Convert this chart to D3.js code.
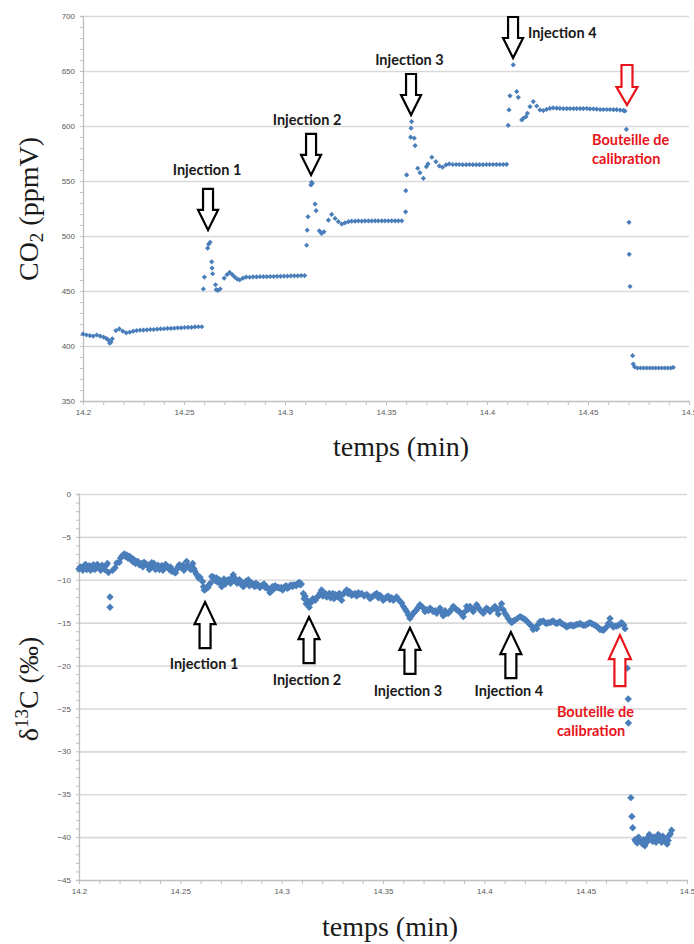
<!DOCTYPE html>
<html><head><meta charset="utf-8">
<script src="https://cdn.jsdelivr.net/npm/d3@7"></script>
<style>body{margin:0;background:#fff;overflow:hidden}</style>
</head><body>
<svg id="c" width="694" height="944" xmlns="http://www.w3.org/2000/svg"></svg>
<script>
// ---------- DATA ----------
const co2Time = [
14.2000,14.2017,14.2034,14.2051,14.2068,14.2085,14.2102,14.2115,14.2125,14.2132,14.2138,14.2145,14.2163,14.2180,14.2197,14.2214,14.2231,14.2248,14.2265,14.2282,14.2299,14.2316,14.2333,14.2350,14.2367,14.2384,14.2401,14.2418,14.2435,14.2452,14.2469,14.2486,14.2503,14.2520,14.2537,14.2554,14.2571,14.2588,
14.2596,14.2601,14.2617,14.2622,14.2629,14.2637,14.2639,14.2642,14.2656,14.2659,14.2668,14.2679,14.2699,14.2713,14.2726,14.2739,14.2751,14.2764,14.2776,14.2792,14.2808,14.2825,14.2842,14.2859,14.2876,14.2893,14.2910,14.2927,14.2944,14.2961,14.2978,14.2995,14.3012,14.3029,14.3046,14.3063,14.3080,14.3097,
14.3107,14.3110,14.3114,14.3128,14.3132,14.3135,14.3149,14.3154,14.3170,14.3181,14.3193,14.3215,14.3231,14.3248,14.3264,14.3281,14.3297,14.3314,14.3330,14.3347,14.3363,14.3380,14.3396,14.3413,14.3429,14.3446,14.3462,14.3479,14.3495,14.3512,14.3528,14.3545,14.3561,14.3578,
14.3597,14.3598,14.3602,14.3622,14.3624,14.3627,14.3640,14.3644,14.3657,14.3668,14.3685,14.3700,14.3708,14.3727,14.3747,14.3764,14.3780,14.3797,14.3813,14.3830,14.3847,14.3863,14.3880,14.3897,14.3913,14.3930,14.3947,14.3963,14.3980,14.3997,14.4013,14.4030,14.4047,14.4063,14.4080,14.4097,
14.4105,14.4109,14.4114,14.4130,14.4147,14.4155,14.4172,14.4180,14.4193,14.4200,14.4213,14.4229,14.4246,14.4262,14.4279,14.4295,14.4312,14.4328,14.4345,14.4361,14.4378,14.4395,14.4411,14.4428,14.4444,14.4461,14.4477,14.4494,14.4510,14.4527,14.4543,14.4560,14.4576,14.4593,14.4609,14.4626,14.4642,14.4659,14.4675,14.4683,14.4690,14.4703,14.4704,14.4708,14.4721,14.4724,14.4731,14.4745,14.4760,14.4775,14.4790,14.4805,14.4820,14.4835,14.4850,14.4865,14.4880,14.4895,14.4910,14.4922];
const co2Values = [
411,410,409.5,409,410,409,408,407,405.5,402.5,403.5,406.5,414,415.5,413.5,412,412.5,413.5,414,414.3,414.5,414.7,415,415,415.3,415.5,415.7,416,416,416.2,416.5,416.5,416.8,417,417,417.3,417.5,417.5,
451.8,462.7,488.9,492.5,494.3,476.5,470.8,465.7,455.7,451.2,450.6,451.8,461.7,464.8,466.9,464.8,462.7,460.8,460.2,461.7,462.7,462.5,462.8,462.8,463,463,463,463.2,463.2,463.3,463.3,463.5,463.5,463.7,463.8,463.8,464,464,
491.6,505.3,517.5,546.4,548.8,547.9,529,523,504.7,502.3,503.8,514.4,519.6,516,513,510.8,512,513,513.5,513.5,513.7,513.5,513.7,513.7,513.7,513.8,513.7,513.8,513.8,513.8,513.8,513.8,513.8,513.8,
522,541.2,555.5,589.8,598,604,588.9,582.2,561.6,557.6,552.4,563,565.5,571.6,567.6,563.7,562.5,564.6,565.5,565,565,565,564.8,564.8,565,564.8,564.8,564.8,564.8,565,565,565,565,565,565,565.2,
600.6,614.6,627.4,655.6,631.3,626.1,605.5,607,608.5,611.6,617.6,622.2,618.2,614.6,614,615.2,616.1,616.4,616.2,616,615.8,615.8,615.8,615.8,615.8,615.8,615.8,616,615.5,615.5,615.3,615,615,615,615,614.8,614.8,614.5,614.2,613.7,597,512.4,483.3,454.1,391.2,383.6,381,380,380,380,380,380,380,380,380,380,380,380,380,380.5];

// δ13C samples (main pass)
const d13cTime = [
14.2000,14.2013,14.2025,14.2038,14.2051,14.2063,14.2071,14.2084,14.2095,14.2107,14.2120,14.2133,14.2140,14.2145,14.2153,14.2153,14.2166,14.2178,14.2186,14.2199,
14.2211,14.2224,14.2235,14.2248,14.2260,14.2271,14.2285,14.2298,14.2309,14.2321,14.2334,14.2347,14.2359,14.2370,14.2383,14.2396,14.2408,14.2419,14.2433,14.2446,
14.2457,14.2469,14.2482,14.2495,14.2507,14.2518,14.2531,14.2539,14.2551,14.2561,14.2572,14.2584,14.2597,14.2610,14.2618,14.2630,14.2641,14.2655,14.2666,14.2679,
14.2692,14.2704,14.2715,14.2729,14.2742,14.2753,14.2761,14.2773,14.2786,14.2798,14.2811,14.2822,14.2835,14.2847,14.2860,14.2873,14.2885,14.2901,14.2913,14.2926,
14.2942,14.2954,14.2967,14.2978,14.2992,14.3005,14.3016,14.3028,14.3041,14.3054,14.3066,14.3077,14.3087,14.3097,14.3107,14.3115,14.3126,14.3136,14.3148,14.3159,
14.3173,14.3186,14.3197,14.3209,14.3222,14.3235,14.3247,14.3258,14.3271,14.3284,14.3296,14.3307,14.3321,14.3334,14.3345,14.3362,14.3378,14.3395,14.3419,14.3436,
14.3452,14.3469,14.3485,14.3501,14.3518,14.3534,14.3551,14.3567,14.3584,14.3600,14.3617,14.3633,14.3649,14.3666,14.3682,14.3699,14.3715,14.3732,14.3748,14.3765,
14.3781,14.3797,14.3814,14.3830,14.3847,14.3863,14.3880,14.3896,14.3913,14.3929,14.3945,14.3962,14.3978,14.3995,14.4011,14.4028,14.4052,14.4069,14.4085,14.4102,
14.4118,14.4135,14.4151,14.4176,14.4192,14.4209,14.4225,14.4241,14.4258,14.4274,14.4291,14.4307,14.4324,14.4340,14.4357,14.4373,14.4389,14.4406,14.4422,14.4439,
14.4455,14.4472,14.4488,14.4505,14.4521,14.4537,14.4554,14.4570,14.4587,14.4603,14.4620,14.4636,14.4653,14.4669,14.4682,14.4694,14.4705,14.4710,14.4711,14.4723,
14.4728,14.4732,14.4743,14.4754,14.4768,14.4781,14.4792,14.4804,14.4814,14.4825,14.4837,14.4847,14.4858,14.4870,14.4880,14.4891,14.4902,14.4912,14.4924];
const d13cValues = [
-8.75,-8.6,-8.4,-8.8,-8.35,-8.75,-8.25,-8.6,-8.4,-8.9,-8.6,-8.35,-8.1,-9.15,-12.0,-13.2,-8.9,-8.6,-8.05,-7.95,
-7.25,-7.0,-7.1,-7.25,-7.45,-7.65,-7.85,-8.25,-8.1,-7.95,-8.25,-8.8,-8.0,-8.1,-8.5,-8.8,-8.35,-8.6,-8.4,-8.8,
-9.0,-9.1,-8.8,-8.25,-8.6,-8.9,-7.85,-8.35,-8.8,-8.1,-9.0,-9.5,-9.7,-10.2,-11.2,-11.0,-10.6,-9.6,-9.7,-9.8,
-10.0,-10.8,-9.9,-10.2,-10.1,-9.8,-9.4,-9.9,-10.2,-10.5,-10.8,-10.2,-10.0,-10.3,-10.6,-10.4,-10.6,-10.7,-10.5,-10.8,
-11.5,-10.8,-10.7,-10.9,-11.0,-11.2,-10.8,-11.0,-10.7,-10.8,-10.6,-10.5,-10.3,-10.5,-11.6,-11.9,-12.4,-13.2,-12.6,-12.3,
-12.1,-11.8,-11.2,-11.7,-12.0,-11.6,-11.8,-12.2,-11.9,-11.6,-12.4,-11.6,-11.2,-11.4,-11.8,-11.6,-11.5,-11.6,-11.7,-12.2,
-11.9,-11.6,-11.8,-12.4,-12.0,-12.3,-12.4,-12.0,-12.5,-13.1,-13.7,-14.5,-13.9,-13.5,-12.9,-13.3,-13.5,-13.3,-13.7,-13.9,
-13.3,-14.2,-13.9,-13.7,-13.1,-13.5,-13.8,-14.3,-13.1,-13.1,-13.7,-12.9,-13.5,-13.9,-13.3,-13.7,-13.1,-14.0,-12.8,-13.9,
-14.5,-15.0,-14.7,-14.3,-14.5,-14.8,-15.2,-15.8,-15.7,-14.9,-14.8,-15.1,-15.0,-14.8,-15.1,-14.9,-15.2,-15.5,-15.3,-15.4,
-15.2,-15.1,-15.3,-15.2,-15.0,-15.2,-15.4,-15.8,-15.9,-15.5,-14.5,-15.5,-15.4,-15.2,-15.1,-15.7,-20.3,-23.9,-26.7,-35.4,
-37.6,-38.9,-40.3,-40.7,-40.4,-40.8,-41.0,-40.1,-39.7,-40.3,-40.0,-40.6,-39.7,-40.2,-39.9,-40.5,-40.8,-39.8,-39.2];

// δ13C samples (interleaved readings that thicken the band)
const d13cTimeB = [
14.2006,14.2019,14.2032,14.2045,14.2057,14.2078,14.2090,14.2101,14.2114,14.2127,
14.2205,14.2218,14.2230,14.2242,14.2254,14.2266,14.2279,14.2292,14.2315,14.2328,14.2341,14.2353,14.2365,14.2377,14.2390,14.2402,14.2414,14.2427,14.2440,14.2451,14.2463,14.2476,14.2488,14.2501,14.2513,14.2525,14.2545,14.2556,14.2567,14.2578,14.2590,
14.2614,14.2624,14.2636,14.2648,14.2660,14.2672,14.2685,14.2698,14.2710,14.2722,14.2735,14.2748,14.2767,14.2780,14.2792,14.2804,14.2816,14.2829,14.2841,14.2854,14.2866,14.2879,14.2893,14.2907,14.2919,14.2934,14.2948,14.2960,14.2972,14.2985,14.2998,14.3011,14.3022,14.3035,14.3047,14.3060,14.3072,14.3082,14.3092,
14.3111,14.3121,14.3131,14.3142,14.3154,14.3166,14.3180,14.3191,14.3203,14.3216,14.3228,14.3241,14.3252,14.3265,14.3278,14.3290,14.3302,14.3314,14.3328,14.3340,14.3353,14.3370,14.3386,14.3407,14.3428,14.3444,14.3461,14.3477,14.3493,14.3510,14.3526,14.3543,14.3559,14.3576,14.3592,
14.3609,14.3625,14.3641,14.3658,14.3674,14.3691,14.3707,14.3724,14.3740,14.3757,14.3773,14.3789,14.3806,14.3822,14.3839,14.3855,14.3872,14.3888,14.3905,14.3921,14.3937,14.3954,14.3970,14.3987,14.4003,14.4020,14.4040,14.4060,14.4077,14.4094,14.4110,
14.4127,14.4143,14.4163,14.4184,14.4200,14.4217,14.4233,14.4250,14.4266,14.4282,14.4299,14.4315,14.4332,14.4348,14.4365,14.4381,14.4398,14.4414,14.4431,14.4447,14.4463,14.4480,14.4497,14.4513,14.4529,14.4546,14.4562,14.4578,14.4595,14.4612,14.4628,14.4645,14.4661,14.4676,14.4688,
14.4748,14.4761,14.4775,14.4786,14.4798,14.4809,14.4820,14.4831,14.4842,14.4853,14.4864,14.4875,14.4886,14.4896,14.4907,14.4918];
const d13cValuesB = [
-8.5,-8.9,-8.2,-8.6,-8.9,-8.8,-8.2,-8.6,-8.3,-8.8,
-7.5,-7.1,-7.3,-7.5,-7.6,-7.9,-8.1,-7.9,-8.5,-8.1,-8.3,-8.6,-8.4,-8.8,-8.3,-8.6,-8.9,-8.2,-8.6,-8.5,-8.9,-9.2,-8.5,-8.4,-8.3,-8.6,-8.5,-8.4,-8.7,-9.3,-9.8,
-10.8,-11.1,-10.9,-10.4,-9.8,-10.1,-10.3,-10.4,-10.2,-10.5,-10.0,-10.4,-10.1,-10.4,-10.0,-10.3,-10.6,-10.4,-10.7,-10.4,-10.8,-10.7,-10.9,-10.6,-10.9,-11.1,-11.0,-11.1,-10.8,-10.9,-10.9,-10.9,-10.7,-10.9,-10.6,-10.6,-10.7,-10.4,-10.6,
-12.2,-12.8,-12.9,-12.5,-12.2,-12.4,-11.9,-11.5,-11.9,-11.6,-11.8,-12.1,-11.6,-11.7,-12.0,-11.8,-11.7,-11.4,-11.6,-11.5,-11.7,-11.9,-11.7,-11.9,-11.9,-12.0,-11.7,-12.1,-12.0,-12.2,-11.9,-12.1,-12.2,-12.3,-12.7,
-13.4,-14.1,-14.2,-13.7,-13.2,-13.1,-13.7,-13.6,-13.5,-13.6,-13.6,-13.8,-13.6,-13.9,-13.4,-13.3,-13.6,-14.0,-13.7,-13.4,-13.4,-13.3,-13.2,-13.7,-13.6,-13.5,-13.4,-13.5,-13.3,-13.5,-14.2,
-14.8,-14.8,-14.5,-14.4,-14.6,-15.0,-15.4,-15.6,-15.2,-14.9,-15.0,-15.0,-14.9,-15.0,-15.0,-15.1,-15.3,-15.4,-15.3,-15.3,-15.2,-15.2,-15.3,-15.1,-15.1,-15.3,-15.6,-15.8,-15.7,-15.1,-15.2,-15.4,-15.3,-15.0,-15.3,
-40.5,-40.0,-40.6,-40.3,-40.7,-40.4,-40.0,-40.5,-40.2,-40.4,-40.0,-40.6,-40.1,-40.2,-40.4,-39.6];

const timeTicks = [14.2, 14.25, 14.3, 14.35, 14.4, 14.45, 14.5];
const timeTickLabels = ["14.2", "14.25", "14.3", "14.35", "14.4", "14.45", "14.5"];
const co2Ticks = [350, 400, 450, 500, 550, 600, 650, 700];
const d13cTicks = [0, -5, -10, -15, -20, -25, -30, -35, -40, -45];

// annotations: arrow tip (time, value) and label anchor (time, value)
const co2Notes = [
  {text: ["Injection 1"], t: 14.2619, v: 505.5, lt: 14.2614, lv: 555.5, anchor: "middle", red: false},
  {text: ["Injection 2"], t: 14.3129, v: 555.5, lt: 14.3109, lv: 600.9, anchor: "middle", red: false},
  {text: ["Injection 3"], t: 14.3624, v: 610.0, lt: 14.3616, lv: 655.5, anchor: "middle", red: false},
  {text: ["Injection 4"], t: 14.4129, v: 661.8, lt: 14.4203, lv: 680.0, anchor: "start", red: false},
  {text: ["Bouteille de", "calibration"], t: 14.4693, v: 619.1, lt: 14.4520, lv: 582.7, anchor: "start", red: true}
];
const d13cNotes = [
  {text: ["Injection 1"], t: 14.2622, v: -12.6, lt: 14.2617, lv: -20.4, anchor: "middle", red: false},
  {text: ["Injection 2"], t: 14.3135, v: -14.35, lt: 14.3125, lv: -22.27, anchor: "middle", red: false},
  {text: ["Injection 3"], t: 14.3633, v: -15.6, lt: 14.3623, lv: -23.55, anchor: "middle", red: false},
  {text: ["Injection 4"], t: 14.4131, v: -16.1, lt: 14.4121, lv: -23.55, anchor: "middle", red: false},
  {text: ["Bouteille de", "calibration"], t: 14.4669, v: -16.45, lt: 14.4358, lv: -26.0, anchor: "start", red: true}
];

// ---------- DRAWING ----------
const svg = d3.select("#c");
const BLUE = "#4a7ebb";
const GRID = "#d9d9d9";
const AXIS = "#bfbfbf";
const TICKTXT = "#595959";

function panel(cfg) {
  const x = d3.scaleLinear().domain([14.2, 14.5]).range([cfg.x0, cfg.x1]);
  const y = d3.scaleLinear().domain(cfg.yDomain).range([cfg.yBottom, cfg.yTop]);
  const g = svg.append("g");

  const grid = g.append("g").attr("transform", `translate(${cfg.x0},0)`)
    .call(d3.axisLeft(y).tickValues(cfg.yTicks.filter(v => v !== cfg.yDomain[0]))
      .tickSize(-(cfg.x1 - cfg.x0)).tickFormat(""));
  grid.select(".domain").remove();
  grid.selectAll("line").attr("stroke", GRID).attr("stroke-width", 1.6);

  const ym = g.append("g").attr("transform", `translate(${cfg.x0},0)`)
    .call(d3.axisLeft(y).tickValues(d3.range(cfg.yDomain[0], cfg.yDomain[1] + 1e-9, cfg.yMinor))
      .tickSize(3).tickFormat(""));
  ym.select(".domain").attr("stroke", AXIS).attr("stroke-width", 1.3);
  ym.selectAll("line").attr("stroke", AXIS);

  const yl = g.append("g").attr("transform", `translate(${cfg.x0},0)`)
    .call(d3.axisLeft(y).tickValues(cfg.yTicks).tickSize(0).tickPadding(cfg.yPad));
  yl.select(".domain").remove();
  yl.selectAll("text").attr("fill", TICKTXT).style("font-family", "'Liberation Sans', Arial, sans-serif").style("font-size", "8px");

  const xm = g.append("g").attr("transform", `translate(0,${cfg.yBottom})`)
    .call(d3.axisBottom(x).tickValues(d3.range(14.2, 14.5001, 0.01)).tickSize(4).tickSizeOuter(0).tickFormat(""));
  xm.select(".domain").attr("stroke", AXIS).attr("stroke-width", 1.6);
  xm.selectAll("line").attr("stroke", AXIS);

  const xl = g.append("g").attr("transform", `translate(0,${cfg.yBottom})`)
    .call(d3.axisBottom(x).tickValues(timeTicks).tickSize(0).tickPadding(cfg.xPad)
      .tickFormat((d, i) => timeTickLabels[i]));
  xl.select(".domain").remove();
  xl.selectAll("text").attr("fill", TICKTXT).style("font-family", "'Liberation Sans', Arial, sans-serif").style("font-size", "8px");

  const r = cfg.r;
  const diamond = `M0,${-r}L${r},0L0,${r}L${-r},0Z`;
  g.append("g").selectAll("path").data(cfg.times.map((t, i) => [t, cfg.values[i]]))
    .join("path").attr("d", diamond)
    .attr("transform", d => `translate(${x(d[0])},${y(d[1])})`)
    .attr("fill", BLUE);

  const ann = g.append("g");
  cfg.notes.forEach(n => {
    const a = n.red ? cfg.redArrow : cfg.arrow;
    const cx = x(n.t), tip = y(n.v), dir = cfg.dir;
    const hw = a.hw / 2, sw = a.sw / 2;
    const base = tip - dir * a.hl, tail = tip - dir * a.len;
    const pts = [[cx - sw, tail], [cx + sw, tail], [cx + sw, base], [cx + hw, base], [cx, tip], [cx - hw, base], [cx - sw, base]];
    ann.append("path").attr("d", "M" + pts.map(p => p.join(",")).join("L") + "Z")
      .attr("fill", "#fff").attr("stroke", n.red ? "#e8141b" : "#000")
      .attr("stroke-width", 2.2).attr("stroke-linejoin", "miter");
    const txt = ann.append("text").attr("x", x(n.lt)).attr("y", y(n.lv))
      .attr("text-anchor", n.anchor)
      .attr("fill", n.red ? "#e8141b" : "#1a1a1a")
      .style("font-family", "Lato, 'Open Sans', sans-serif").style("font-weight", "bold").style("font-size", "14.5px");
    n.text.forEach((s, i) => txt.append("tspan").attr("x", x(n.lt)).attr("dy", i === 0 ? 0 : 19).text(s));
  });
  return {x, y};
}

panel({
  x0: 83, x1: 689, yTop: 16, yBottom: 401, yDomain: [350, 700], yTicks: co2Ticks, yMinor: 10,
  yPad: 8, xPad: 8, times: co2Time, values: co2Values, r: 2.6, notes: co2Notes, dir: 1,
  arrow: {len: 41, hl: 20, hw: 20, sw: 10}, redArrow: {len: 40, hl: 18, hw: 21, sw: 11}
});
panel({
  x0: 79, x1: 687, yTop: 494, yBottom: 880, yDomain: [-45, 0], yTicks: d13cTicks, yMinor: 1,
  yPad: 8, xPad: 8, times: d13cTime.concat(d13cTimeB), values: d13cValues.concat(d13cValuesB),
  r: 3.7, notes: d13cNotes, dir: -1,
  arrow: {len: 46, hl: 22, hw: 21, sw: 11}, redArrow: {len: 51, hl: 24, hw: 22, sw: 11}
});

const serif = "'Liberation Serif', 'Times New Roman', serif";
const t1 = svg.append("text").attr("transform", "translate(38,209) rotate(-90)")
  .attr("text-anchor", "middle").attr("fill", "#1a1a1a")
  .style("font-family", serif).style("font-size", "28px");
t1.append("tspan").text("CO");
t1.append("tspan").attr("dy", 5).style("font-size", "19px").text("2");
t1.append("tspan").attr("dy", -5).text(" (ppmV)");

const t2 = svg.append("text").attr("transform", "translate(38,689) rotate(-90)")
  .attr("text-anchor", "middle").attr("fill", "#1a1a1a")
  .style("font-family", serif).style("font-size", "28px");
t2.append("tspan").text("δ");
t2.append("tspan").attr("dy", -10).style("font-size", "19px").text("13");
t2.append("tspan").attr("dy", 10).text("C (‰)");

svg.append("text").attr("x", 401).attr("y", 456).attr("text-anchor", "middle").attr("fill", "#1a1a1a")
  .style("font-family", serif).style("font-size", "28px").text("temps (min)");
svg.append("text").attr("x", 390).attr("y", 936).attr("text-anchor", "middle").attr("fill", "#1a1a1a")
  .style("font-family", serif).style("font-size", "28px").text("temps (min)");
</script>
</body></html>
